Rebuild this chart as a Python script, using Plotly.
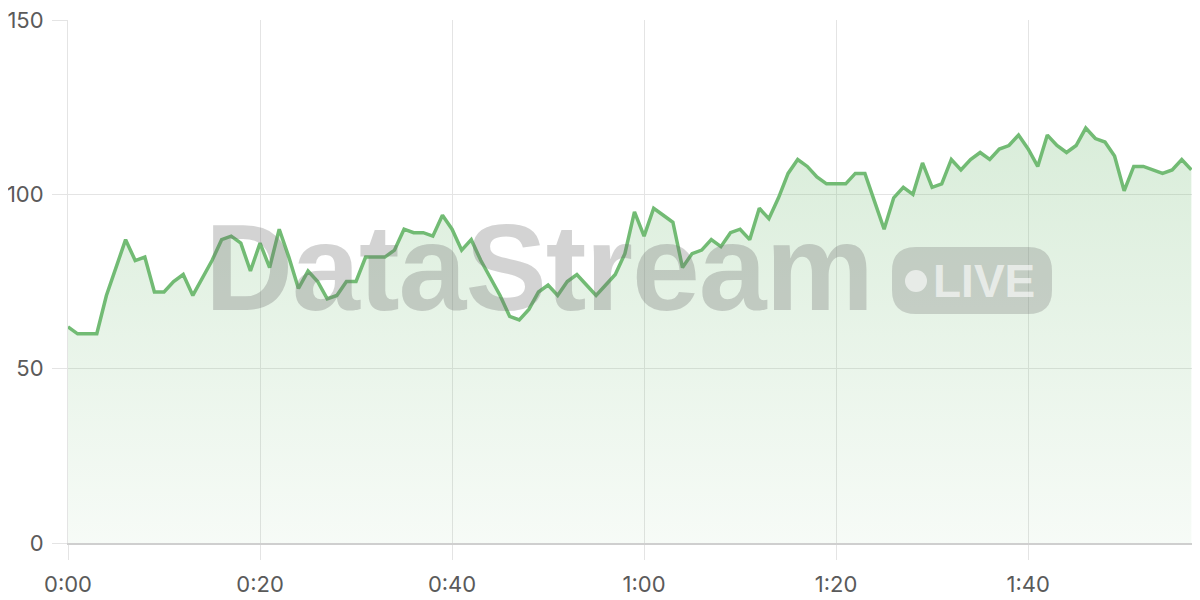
import plotly.graph_objects as go

# Data: one sample per second, t = 0..117
seconds = list(range(118))
values = [
    62, 60, 60, 60, 71, 79, 87, 81, 82, 72,
    72, 75, 77, 71, 76, 81, 87, 88, 86, 78,
    86, 79, 90, 82, 73, 78, 75, 70, 71, 75,
    75, 82, 82, 82, 84, 90, 89, 89, 88, 94,
    90, 84, 87, 81, 76, 71, 65, 64, 67, 72,
    74, 71, 75, 77, 74, 71, 74, 77, 83, 95,
    88, 96, 94, 92, 79, 83, 84, 87, 85, 89,
    90, 87, 96, 93, 99, 106, 110, 108, 105, 103,
    103, 103, 106, 106, 98, 90, 99, 102, 100, 109,
    102, 103, 110, 107, 110, 112, 110, 113, 114, 117,
    113, 108, 117, 114, 112, 114, 119, 116, 115, 111,
    101, 108, 108, 107, 106, 107, 110, 107,
]
x_tick_vals = [0, 20, 40, 60, 80, 100]
x_tick_text = ["0:00", "0:20", "0:40", "1:00", "1:20", "1:40"]
y_tick_vals = [0, 50, 100, 150]

LINE = "#72bb74"
GRID = "#e4e4e4"
TICKFONT = dict(family="Inter, Roboto, sans-serif", size=22, color="#5a5a5a")

# The page body adds an 8px offset; the figure is sized so the page is 1200x600.
OFF = 8
W, H = 1200 - OFF, 600 - OFF

fig = go.Figure()
fig.add_trace(go.Scatter(
    x=seconds, y=values, mode="lines",
    line=dict(color=LINE, width=3.5),
    fill="tozeroy",
    fillgradient=dict(
        type="vertical",
        start=0, stop=120,
        colorscale=[[0, "rgba(114,187,116,0.06)"], [1, "rgba(114,187,116,0.27)"]],
    ),
    hoverinfo="skip",
))

# plot area geometry (page pixels) for watermark placement
L, R, T, B = 68, 1200, 20, 543
def px(x):
    return (x - L) / (R - L)
def py(y):
    return (B - y) / (B - T)

# Watermark text
fig.add_annotation(
    xref="paper", yref="paper", x=px(539), y=py(268),
    text="<span style='letter-spacing:-1px'><b>DataStream</b></span>", showarrow=False,
    font=dict(family="Liberation Sans, Arial, sans-serif",
              size=122, color="rgba(110,110,110,0.3)"),
    xanchor="center", yanchor="middle",
)

# LIVE badge: rounded rectangle
bx0, bx1, by0, by1, r = 892, 1052, 247, 314, 24
path = (
    f"M {px(bx0 + r)} {py(by0)} L {px(bx1 - r)} {py(by0)} "
    f"Q {px(bx1)} {py(by0)} {px(bx1)} {py(by0 + r)} "
    f"L {px(bx1)} {py(by1 - r)} Q {px(bx1)} {py(by1)} {px(bx1 - r)} {py(by1)} "
    f"L {px(bx0 + r)} {py(by1)} Q {px(bx0)} {py(by1)} {px(bx0)} {py(by1 - r)} "
    f"L {px(bx0)} {py(by0 + r)} Q {px(bx0)} {py(by0)} {px(bx0 + r)} {py(by0)} Z"
)
fig.add_shape(type="path", xref="paper", yref="paper", path=path,
              fillcolor="rgba(110,110,110,0.28)", line=dict(width=0), layer="above")
cx, cy, cr = 916, 281, 11
fig.add_shape(type="circle", xref="paper", yref="paper",
              x0=px(cx - cr), x1=px(cx + cr), y0=py(cy + cr), y1=py(cy - cr),
              fillcolor="rgba(255,255,255,0.6)", line=dict(width=0), layer="above")
fig.add_annotation(
    xref="paper", yref="paper", x=px(984), y=py(281),
    text="<b>LIVE</b>", showarrow=False,
    font=dict(family="Liberation Sans, Arial, sans-serif", size=46, color="rgba(255,255,255,0.6)"),
    xanchor="center", yanchor="middle",
)

fig.update_layout(
    width=W, height=H,
    margin=dict(l=L - OFF, r=1200 - R, t=T - OFF, b=600 - B, autoexpand=False),
    paper_bgcolor="white", plot_bgcolor="white",
    showlegend=False,
)
fig.update_xaxes(
    range=[0, 117.9], tickvals=x_tick_vals, ticktext=x_tick_text,
    showgrid=True, gridcolor=GRID, gridwidth=1,
    ticks="outside", ticklen=15, tickcolor=GRID, tickwidth=1,
    showline=True, linecolor="#cfcfcf", linewidth=2,
    tickfont=TICKFONT, zeroline=False, fixedrange=True,
    automargin=False, ticklabelstandoff=6, ticklabeloverflow="allow",
)
fig.update_yaxes(
    range=[0, 150], tickvals=y_tick_vals,
    showgrid=True, gridcolor=GRID, gridwidth=1,
    ticks="outside", ticklen=15, tickcolor=GRID, tickwidth=1,
    showline=True, linecolor=GRID, linewidth=1,
    tickfont=TICKFONT, zeroline=False, fixedrange=True,
    automargin=False, ticklabelstandoff=4, ticklabeloverflow="allow",
)

fig.write_html("out.html")
